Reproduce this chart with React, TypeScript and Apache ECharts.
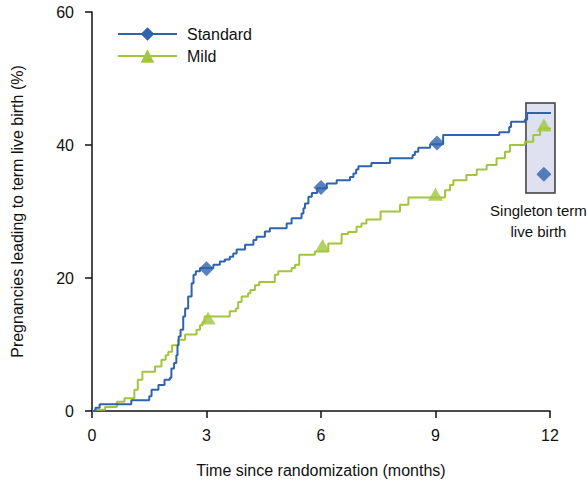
import React, { useEffect, useRef } from "react";
import * as echarts from "echarts";

// Kaplan–Meier style cumulative curves (time in months, % pregnancies)
const standardTimes = [0, 0.09, 0.2, 1.03, 1.5, 1.56, 1.74, 1.9, 2.04, 2.08, 2.15, 2.21, 2.24, 2.27, 2.32, 2.39, 2.44, 2.52, 2.61, 2.66, 2.72, 2.83, 3.18, 3.35, 3.48, 3.61, 3.7, 3.79, 4.01, 4.23, 4.31, 4.53, 4.66, 5.1, 5.23, 5.49, 5.54, 5.58, 5.67, 5.76, 5.9, 6.15, 6.41, 6.76, 6.85, 6.92, 6.98, 7.32, 7.81, 8.4, 8.46, 8.55, 8.86, 9.2, 10.67, 10.93, 10.98, 11.34, 11.4, 12.03];
const standardValues = [0, 0.5, 1.0, 1.6, 2.2, 3.2, 3.9, 4.7, 5.0, 6.4, 7.2, 8.4, 9.9, 11.2, 12.2, 14.2, 15.4, 17.2, 19.2, 20.5, 21.0, 21.5, 22.0, 22.5, 22.8, 23.2, 23.7, 24.3, 25.0, 25.7, 26.2, 27.0, 27.5, 28.2, 29.0, 29.7, 30.5, 31.2, 32.2, 32.8, 33.5, 34.2, 34.7, 35.2, 35.7, 36.3, 36.8, 37.3, 38.0, 38.5, 39.0, 39.6, 40.1, 41.5, 41.9, 42.7, 43.5, 43.8, 44.8, 44.8];

const mildTimes = [0, 0.08, 0.34, 0.65, 0.85, 1.11, 1.2, 1.32, 1.65, 1.82, 1.93, 2.0, 2.1, 2.26, 2.44, 2.74, 2.83, 2.9, 2.95, 3.61, 3.77, 3.83, 3.92, 4.09, 4.15, 4.27, 4.38, 4.79, 4.88, 5.23, 5.32, 5.43, 5.84, 6.19, 6.54, 6.71, 6.93, 7.06, 7.19, 7.56, 8.07, 8.29, 9.25, 9.38, 9.47, 9.81, 10.08, 10.34, 10.6, 10.82, 10.95, 11.34, 11.56, 11.74, 12.03];
const mildValues = [0, 0.2, 0.6, 1.4, 1.9, 3.2, 4.7, 5.9, 6.7, 7.7, 8.4, 8.9, 9.9, 10.7, 11.5, 12.2, 12.9, 13.4, 14.2, 15.0, 15.4, 16.4, 17.2, 17.7, 18.2, 18.9, 19.4, 20.5, 21.0, 21.5, 22.0, 23.5, 24.0, 25.2, 26.6, 26.9, 27.7, 28.2, 28.8, 30.0, 31.0, 32.1, 33.2, 34.0, 34.7, 35.5, 36.3, 37.0, 38.0, 39.0, 40.0, 40.5, 41.5, 42.5, 42.5];

// Markers
const standardMarkerX = [3, 6, 9.04, 11.84];
const standardMarkerY = [21.4, 33.6, 40.3, 35.6];
const mildMarkerX = [3.04, 6.04, 9.0, 11.84];
const mildMarkerY = [14.0, 24.9, 32.6, 43.0];

// Singleton term live birth box [x0, yTop, x1, yBottom]
const singletonBox = [11.37, 46.3, 12.13, 32.8];
const singletonLabel = "Singleton term\nlive birth";

const xTicks = [0, 3, 6, 9, 12];
const yTicks = [0, 20, 40, 60];
const seriesNames = ["Standard", "Mild"];

const BLUE = "#2f63ad";
const GREEN = "#a2c53c";
const FONT = "'Liberation Sans', Arial, sans-serif";

export default function App() {
  const ref = useRef<HTMLDivElement>(null);

  useEffect(() => {
    if (!ref.current) return;
    const chart = echarts.init(ref.current, undefined, { renderer: "svg" });
    const zip = (xs: number[], ys: number[]) => xs.map((x, i) => [x, ys[i]]);

    chart.setOption({
      animation: false,
      backgroundColor: "#ffffff",
      textStyle: { fontFamily: FONT },
      grid: { left: 92, right: 37, top: 12, bottom: 75, containLabel: false },
      legend: {
        orient: "vertical",
        left: 117,
        top: 26,
        padding: 0,
        itemWidth: 59,
        itemHeight: 17,
        itemGap: 6,
        data: seriesNames,
        textStyle: { fontFamily: FONT, fontSize: 16, color: "#111", padding: [0, 0, 0, 5] },
      },
      xAxis: {
        type: "value",
        min: xTicks[0],
        max: xTicks[xTicks.length - 1],
        interval: 3,
        name: "Time since randomization (months)",
        nameLocation: "middle",
        nameGap: 51,
        nameTextStyle: { fontFamily: FONT, fontSize: 16, color: "#111" },
        axisLine: { lineStyle: { color: "#111", width: 1.5 } },
        axisTick: { length: 7, lineStyle: { color: "#111", width: 1.5 } },
        axisLabel: { margin: 16, fontFamily: FONT, fontSize: 16, color: "#111" },
        splitLine: { show: false },
      },
      yAxis: {
        type: "value",
        min: yTicks[0],
        max: yTicks[yTicks.length - 1],
        interval: 20,
        name: "Pregnancies leading to term live birth (%)",
        nameLocation: "middle",
        nameGap: 67,
        nameRotate: 90,
        nameTextStyle: { fontFamily: FONT, fontSize: 16, color: "#111" },
        axisLine: { show: true, lineStyle: { color: "#111", width: 1.5 } },
        axisTick: { show: true, length: 7, lineStyle: { color: "#111", width: 1.5 } },
        axisLabel: { margin: 18, fontFamily: FONT, fontSize: 16, color: "#111" },
        splitLine: { show: false },
      },
      series: [
        {
          type: "custom",
          name: "box",
          silent: true,
          z: 1,
          clip: false,
          data: [singletonBox],
          renderItem: (_params: any, api: any) => {
            const p0 = api.coord([api.value(0), api.value(1)]);
            const p1 = api.coord([api.value(2), api.value(3)]);
            return {
              type: "group",
              children: [
                {
                  type: "rect",
                  shape: { x: p0[0], y: p0[1], width: p1[0] - p0[0], height: p1[1] - p0[1] },
                  style: { fill: "#dfe1f0", stroke: "#3a3a3a", lineWidth: 1.5 },
                },
                {
                  type: "text",
                  x: (p0[0] + p1[0]) / 2 - 2,
                  y: p1[1] + 7,
                  style: {
                    text: singletonLabel,
                    align: "center",
                    verticalAlign: "top",
                    fontFamily: FONT,
                    fontSize: 15,
                    lineHeight: 21,
                    fill: "#111",
                  },
                },
              ],
            };
          },
        },
        {
          type: "line",
          name: seriesNames[0],
          step: "end",
          data: zip(standardTimes, standardValues),
          showSymbol: false,
          symbol: "diamond",
          symbolSize: 14,
          lineStyle: { color: BLUE, width: 2 },
          itemStyle: { color: BLUE },
          z: 3,
        },
        {
          type: "line",
          name: seriesNames[1],
          step: "end",
          data: zip(mildTimes, mildValues),
          showSymbol: false,
          symbol: "triangle",
          symbolSize: 14,
          lineStyle: { color: GREEN, width: 2 },
          itemStyle: { color: GREEN },
          z: 2,
        },
        {
          type: "scatter",
          name: "standardMarkers",
          data: zip(standardMarkerX, standardMarkerY),
          symbol: "diamond",
          symbolSize: [15, 15],
          itemStyle: { color: BLUE },
          clip: false,
          z: 5,
        },
        {
          type: "scatter",
          name: "mildMarkers",
          data: zip(mildMarkerX, mildMarkerY),
          symbol: "triangle",
          symbolSize: [15, 13],
          itemStyle: { color: GREEN },
          clip: false,
          z: 4,
        },
      ],
    });

    return () => chart.dispose();
  }, []);

  return <div ref={ref} style={{ position: "absolute", left: 0, top: 0, width: 587, height: 486 }} />;
}
